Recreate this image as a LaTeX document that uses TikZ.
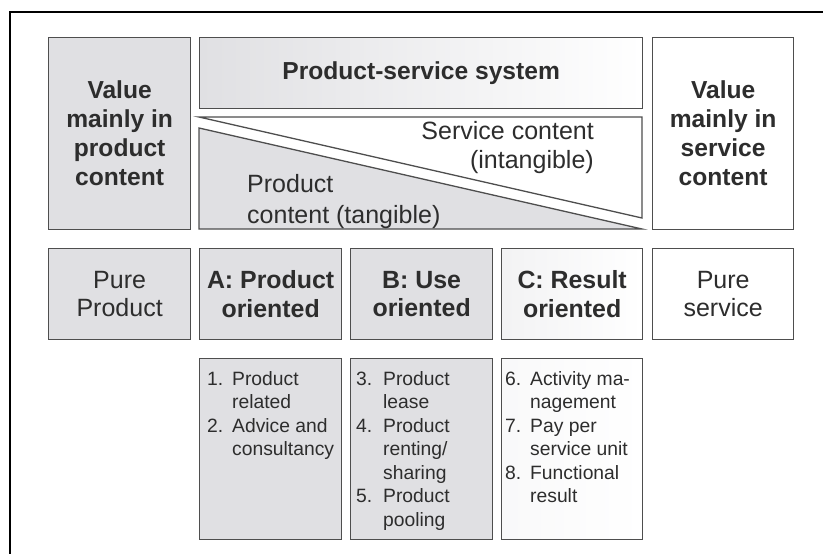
\documentclass[tikz,border=0pt]{standalone}
\usepackage{fontspec}
\setmainfont{Liberation Sans}
\definecolor{boxgray}{RGB}{224,224,227}
\definecolor{edgec}{RGB}{78,78,78}
\definecolor{txt}{RGB}{45,45,45}
\begin{document}
\begin{tikzpicture}[x=1pt,y=-1pt,
  box/.style={draw=edgec, line width=1.3pt, anchor=north west, inner sep=0pt, align=center, text=txt},
  gbox/.style={box, fill=boxgray},
  wbox/.style={box, fill=white},
  bigb/.style={font=\fontsize{24.6}{29}\selectfont\bfseries},
  bigr/.style={font=\fontsize{25}{28.5}\selectfont},
  rowb/.style={font=\fontsize{24.9}{28.5}\selectfont\bfseries},
  listtxt/.style={anchor=north west, inner sep=0pt, text=txt, font=\fontsize{19.3}{23.5}\selectfont},
  tri/.style={draw=edgec, line width=1.3pt, line join=miter}
]
\useasboundingbox (0,0) rectangle (823,554);
% outer frame
\draw[line width=2.6pt] (10,554) -- (10,12) -- (823,12);

% top row
\node[gbox, bigb, minimum width=142pt, minimum height=192pt] (vp) at (48,37) {Value\\mainly in\\product\\content};
\node[box, bigb, left color=boxgray, right color=white, minimum width=443pt, minimum height=71pt] (pss) at (199,37) {Product-service system};
\node[wbox, bigb, minimum width=141pt, minimum height=192pt] (vs) at (652,37) {Value\\mainly in\\service\\content};

% triangles
\filldraw[tri, fill=white] (199,117) -- (642,117) -- (642,218) -- cycle;
\filldraw[tri, fill=boxgray] (199,128) -- (642,229) -- (199,229) -- cycle;
\node[anchor=east, align=right, inner sep=0pt, text=txt, font=\fontsize{25}{29}\selectfont] (svc) at (594,148) {Service content\\(intangible)};
\node[anchor=west, align=left, inner sep=0pt, text=txt, font=\fontsize{25}{31}\selectfont] (prd) at (247,202) {Product\\content (tangible)};

% second row
\node[gbox, bigr, minimum width=142pt, minimum height=91pt] (pp) at (48,248) {Pure\\Product};
\node[gbox, rowb, minimum width=142pt, minimum height=91pt] (ra) at (199,248) {A: Product\\oriented};
\node[gbox, rowb, minimum width=142pt, minimum height=91pt] (rb) at (350,248) {B: Use\\oriented};
\node[box, rowb, left color=white!60!boxgray, right color=white, minimum width=141pt, minimum height=91pt] (rc) at (501,248) {C: Result\\oriented};
\node[wbox, bigr, minimum width=141pt, minimum height=91pt] (ps) at (652,248) {Pure\\service};

% third row
\node[gbox, minimum width=142pt, minimum height=181pt] (la) at (199,358) {};
\node[gbox, minimum width=142pt, minimum height=181pt] (lb) at (350,358) {};
\node[box, left color=white!80!boxgray, right color=white, minimum width=141pt, minimum height=181pt] (lc) at (501,358) {};

\node[listtxt] (ta) at (207,368.5) {\begin{tabular}{@{}p{25pt}@{}l@{}}1. & Product\\ & related\\ 2. & Advice and\\ & consultancy\end{tabular}};
\node[listtxt] (tb) at (356,368.5) {\begin{tabular}{@{}p{27pt}@{}l@{}}3. & Product\\ & lease\\ 4. & Product\\ & renting/\\ & sharing\\ 5. & Product\\ & pooling\end{tabular}};
\node[listtxt] (tc) at (505,368.5) {\begin{tabular}{@{}p{25pt}@{}l@{}}6. & Activity ma-\\ & nagement\\ 7. & Pay per\\ & service unit\\ 8. & Functional\\ & result\end{tabular}};
\end{tikzpicture}
\end{document}
